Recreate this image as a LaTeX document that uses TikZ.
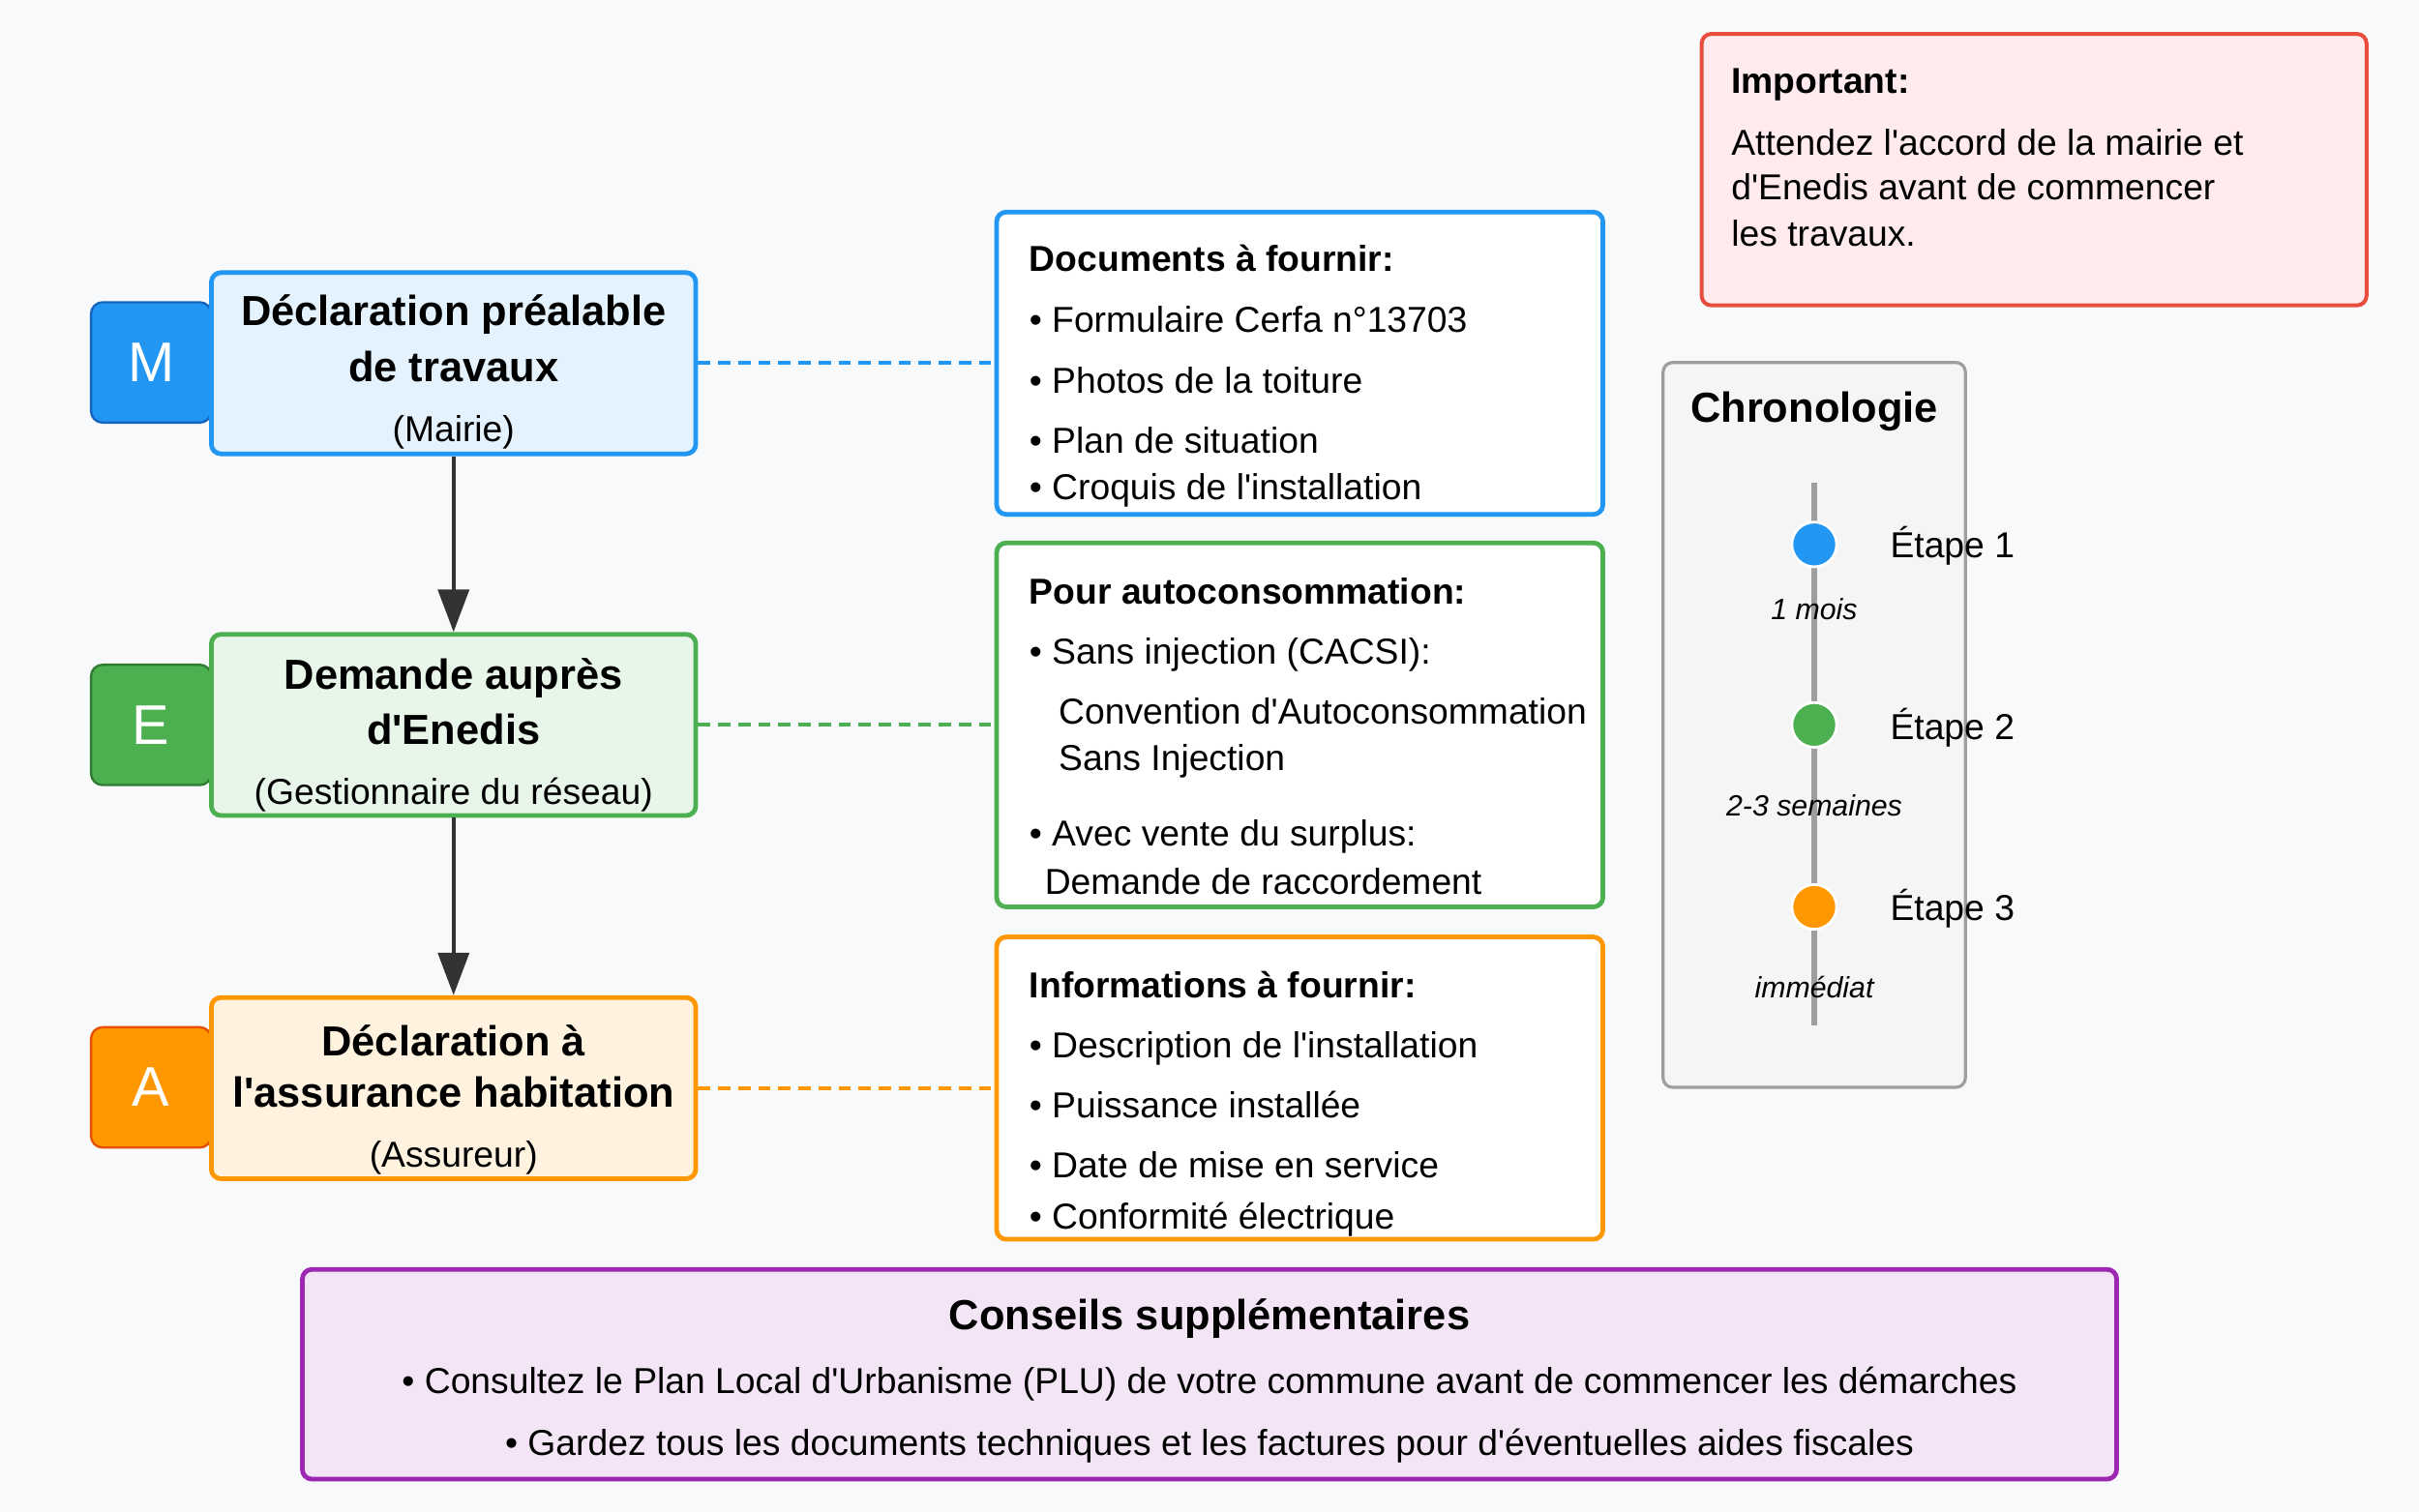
\documentclass[tikz,border=0pt]{standalone}
\usepackage{fontspec}
\setmainfont{Liberation Sans}[Ligatures=TeXOff]
\usetikzlibrary{arrows.meta}

\definecolor{bgcol}{HTML}{F8F9FA}
\definecolor{mblue}{HTML}{2196F3}
\definecolor{mbluedk}{HTML}{1565C0}
\definecolor{mbluebg}{HTML}{E3F2FD}
\definecolor{mgreen}{HTML}{4CAF50}
\definecolor{mgreendk}{HTML}{2E7D32}
\definecolor{mgreenbg}{HTML}{E8F5E9}
\definecolor{morange}{HTML}{FF9800}
\definecolor{morangedk}{HTML}{E65100}
\definecolor{morangebg}{HTML}{FFF3E0}
\definecolor{mred}{HTML}{E74C3C}
\definecolor{mredbg}{HTML}{FFEBEE}
\definecolor{mpurple}{HTML}{9C27B0}
\definecolor{mpurplebg}{HTML}{F3E5F5}
\definecolor{mgray}{HTML}{9E9E9E}
\definecolor{mgraybg}{HTML}{F5F5F5}
\definecolor{arrcol}{HTML}{333333}

\begin{document}
\begin{tikzpicture}[x=0.8pt,y=-0.8pt,
	txt/.style={inner sep=0pt,yshift=-3.5pt,font=\fontsize{18.7}{22}\selectfont},
	bold/.style={inner sep=0pt,yshift=-3.5pt,font=\fontsize{18.7}{22}\selectfont\bfseries},
	head/.style={inner sep=0pt,yshift=-1.5pt,font=\fontsize{21.8}{26}\selectfont\bfseries},
	dur/.style={inner sep=0pt,font=\fontsize{15.2}{18}\selectfont\itshape},
	badge/.style={rectangle,rounded corners=6pt,line width=1.2pt,minimum width=62.4pt,minimum height=62.4pt,
		text=white,font=\fontsize{29}{32}\selectfont},
	stepbox/.style={rectangle,rounded corners=5pt,line width=2.4pt,minimum width=251.2pt,minimum height=94pt},
	infobox/.style={rectangle,rounded corners=5pt,line width=2.4pt,fill=white,minimum width=314.4pt},
	link/.style={line width=2pt,dash pattern=on 6.4pt off 4pt},
	arr/.style={line width=2pt,arrcol,-{Triangle[length=22pt,width=16pt]}},
	dot/.style={circle,line width=1.4pt,draw=white,minimum size=23.2pt,inner sep=0pt}]

	% background
	\fill[bgcol] (0,0) rectangle (1568,980);
	\useasboundingbox (0,0) rectangle (1568,980);

	% badges
	\node[badge,fill=mblue,draw=mbluedk] (bm) at (98,235) {M};
	\node[badge,fill=mgreen,draw=mgreendk] (be) at (98,470) {E};
	\node[badge,fill=morange,draw=morangedk] (ba) at (98,705) {A};

	% steps
	\node[stepbox,draw=mblue,fill=mbluebg] (decl) at (294,235.5) {};
	\node[head] (decl1) at (294,202) {Déclaration préalable};
	\node[head] (decl2) at (294,236) {de travaux};
	\node[txt] (decl3) at (294,276) {(Mairie)};

	\node[stepbox,draw=mgreen,fill=mgreenbg] (ened) at (294,470) {};
	\node[head] (ened1) at (294,438) {Demande auprès};
	\node[head] (ened2) at (294,471) {d'Enedis};
	\node[txt] (ened3) at (294,511) {(Gestionnaire du réseau)};

	\node[stepbox,draw=morange,fill=morangebg] (assu) at (294,705.5) {};
	\node[head] (assu1) at (294,673) {Déclaration à};
	\node[head] (assu2) at (294,706) {l'assurance habitation};
	\node[txt] (assu3) at (294,746) {(Assureur)};

	\draw[arr] (decl) -- (ened);
	\draw[arr] (ened) -- (assu);

	% details
	\node[infobox,draw=mblue,minimum height=156.8pt] (docs) at (842.5,235.5) {};
	\node[bold,anchor=mid west] (docs0) at (667,168) {Documents à fournir:};
	\node[txt,anchor=mid west] (docs1) at (667,208) {• Formulaire Cerfa n°13703};
	\node[txt,anchor=mid west] (docs2) at (667,247) {• Photos de la toiture};
	\node[txt,anchor=mid west] (docs3) at (667,286) {• Plan de situation};
	\node[txt,anchor=mid west] (docs4) at (667,316) {• Croquis de l'installation};

	\node[infobox,draw=mgreen,minimum height=188.8pt] (auto) at (842.5,470) {};
	\node[bold,anchor=mid west] (auto0) at (667,384) {Pour autoconsommation:};
	\node[txt,anchor=mid west] (auto1) at (667,423) {• Sans injection (CACSI):};
	\node[txt,anchor=mid west] (auto2) at (686,462) {Convention d'Autoconsommation};
	\node[txt,anchor=mid west] (auto3) at (686,492) {Sans Injection};
	\node[txt,anchor=mid west] (auto4) at (667,541) {• Avec vente du surplus:};
	\node[txt,anchor=mid west] (auto5) at (677,572) {Demande de raccordement};

	\node[infobox,draw=morange,minimum height=156.8pt] (info) at (842.5,705.5) {};
	\node[bold,anchor=mid west] (info0) at (667,639) {Informations à fournir:};
	\node[txt,anchor=mid west] (info1) at (667,678) {• Description de l'installation};
	\node[txt,anchor=mid west] (info2) at (667,717) {• Puissance installée};
	\node[txt,anchor=mid west] (info3) at (667,756) {• Date de mise en service};
	\node[txt,anchor=mid west] (info4) at (667,789) {• Conformité électrique};

	\draw[link,mblue] (decl.east) -- (docs.west);
	\draw[link,mgreen] (ened.east) -- (auto.west);
	\draw[link,morange] (assu.east) -- (info.west);

	% chronologie
	\node[rectangle,rounded corners=5pt,line width=1.6pt,draw=mgray,fill=mgraybg,
		minimum width=156.8pt,minimum height=376pt] (chrono) at (1176,470) {};
	\node[head] (chrono0) at (1176,265) {Chronologie};
	\coordinate (tltop) at (1176,313);
	\coordinate (tlbot) at (1176,665);
	\draw[line width=3.3pt,mgray] (tltop) -- (tlbot);
	\node[dot,fill=mblue] (s1) at (1176,353) {};
	\node[dot,fill=mgreen] (s2) at (1176,470) {};
	\node[dot,fill=morange] (s3) at (1176,588) {};
	\node[txt,anchor=mid west] (e1) at (1225,354) {Étape 1};
	\node[txt,anchor=mid west] (e2) at (1225,472) {Étape 2};
	\node[txt,anchor=mid west] (e3) at (1225,589) {Étape 3};
	\node[dur] (d1) at (1176,395) {1 mois};
	\node[dur] (d2) at (1176,522) {2-3 semaines};
	\node[dur] (d3) at (1176,640) {immédiat};

	% important
	\node[rectangle,rounded corners=5pt,line width=2pt,draw=mred,fill=mredbg,
		minimum width=344.8pt,minimum height=140.8pt] (imp) at (1318.5,110) {};
	\node[bold,anchor=mid west] (imp0) at (1122,53) {Important:};
	\node[txt,anchor=mid west] (imp1) at (1122,93) {Attendez l'accord de la mairie et};
	\node[txt,anchor=mid west] (imp2) at (1122,122) {d'Enedis avant de commencer};
	\node[txt,anchor=mid west] (imp3) at (1122,152) {les travaux.};

	% conseils
	\node[rectangle,rounded corners=5pt,line width=2.4pt,draw=mpurple,fill=mpurplebg,
		minimum width=940.8pt,minimum height=108.8pt] (tips) at (784,891) {};
	\node[head] (tips0) at (784,853) {Conseils supplémentaires};
	\node[txt] (tips1) at (784,893) {• Consultez le Plan Local d'Urbanisme (PLU) de votre commune avant de commencer les démarches};
	\node[txt] (tips2) at (784,933) {• Gardez tous les documents techniques et les factures pour d'éventuelles aides fiscales};
\end{tikzpicture}
\end{document}
